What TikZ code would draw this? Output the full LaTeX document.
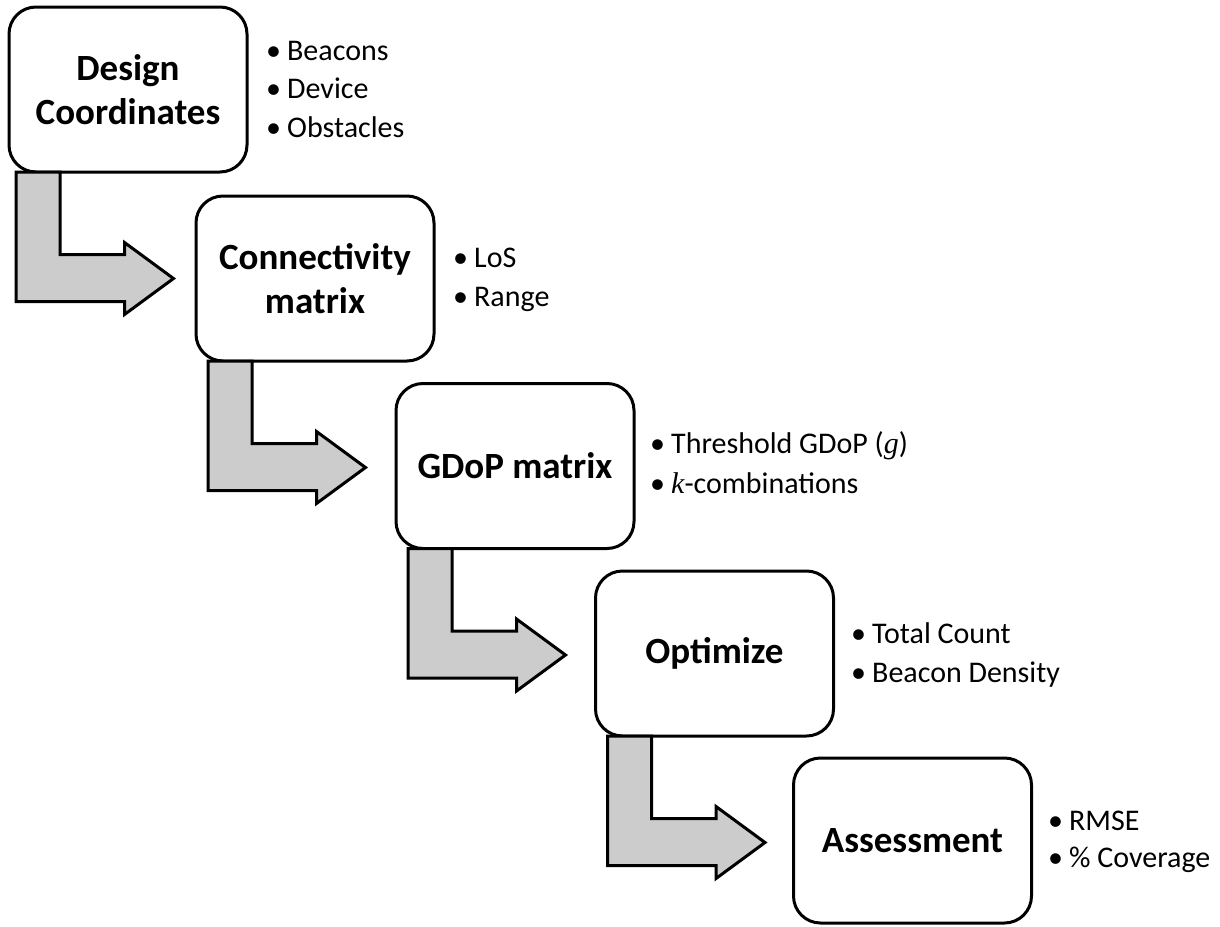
\documentclass[tikz,border=0pt]{standalone}
\usepackage{fontspec}
\setmainfont{Carlito}
\newfontfamily\seritalic{Liberation Serif}
\newcommand\bendarrow[2][(0,0)]{%
  \begin{scope}[shift={(#2.south west)}, shift={#1}]
    \draw[barrow] (13.5,-1.5) -- (13.5,128) -- (122,128) -- (122,141) -- (171,105)
      -- (122,69) -- (122,81) -- (57.5,81) -- (57.5,-1.5) -- cycle;
  \end{scope}}
\newcommand\bul[1]{\makebox[21pt][l]{\textbullet}#1}
\begin{document}
\begin{tikzpicture}[x=1pt,y=-1pt,
  box/.style={draw=black, line width=3pt, fill=white, rounded corners=27pt,
    minimum width=238pt, minimum height=165pt, inner sep=0pt, align=center,
    font=\fontsize{37}{44}\selectfont\bfseries},
  barrow/.style={draw=black, line width=3pt, fill=gray!40, line join=miter},
  item/.style={anchor=base west, inner sep=0pt, font=\fontsize{30}{36}\selectfont}]
\useasboundingbox (0,0) rectangle (1220,926);

\node[box] (b1) at (128,89.5) {Design\\Coordinates};
\node[box] (b2) at (315,278.5) {Connectivity\\matrix};
\node[box] (b3) at (515,466) {GDoP matrix};
\node[box] (b4) at (714.5,653.5) {Optimize};
\node[box] (b5) at (912.5,840.5) {Assessment};

\bendarrow[(-5,0)]{b1}
\bendarrow{b2}
\bendarrow{b3}
\bendarrow{b4}

\node[item] (l1a) at (266,60) {\bul{Beacons}};
\node[item] (l1b) at (266,98) {\bul{Device}};
\node[item] (l1c) at (266,137) {\bul{Obstacles}};

\node[item] (l2a) at (453,267) {\bul{LoS}};
\node[item] (l2b) at (453,306) {\bul{Range}};

\node[item] (l3a) at (650,453) {\bul{Threshold GDoP ({\seritalic\itshape g})}};
\node[item] (l3b) at (650,493) {\bul{{\seritalic\itshape k}-combinations}};

\node[item] (l4a) at (851,643) {\bul{Total Count}};
\node[item] (l4b) at (851,682) {\bul{Beacon Density}};

\node[item] (l5a) at (1048,830) {\bul{RMSE}};
\node[item] (l5b) at (1048,867) {\bul{\% Coverage}};
\end{tikzpicture}
\end{document}
